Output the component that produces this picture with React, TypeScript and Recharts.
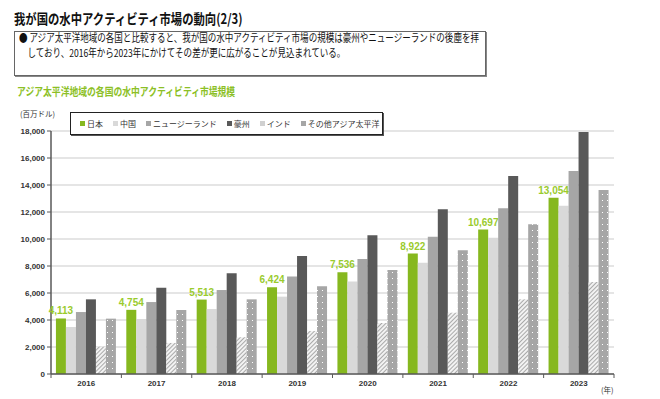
import React from "react";
import {
  BarChart,
  Bar,
  XAxis,
  YAxis,
  CartesianGrid,
  Legend,
  LabelList,
} from "recharts";

const years = ["2016", "2017", "2018", "2019", "2020", "2021", "2022", "2023"];
const japan = [4113, 4754, 5513, 6424, 7536, 8922, 10697, 13054];
const china = [3480, 4070, 4810, 5730, 6860, 8240, 10100, 12470];
const newZealand = [4590, 5330, 6220, 7230, 8520, 10170, 12270, 15040];
const australia = [5530, 6390, 7460, 8740, 10270, 12200, 14670, 17930];
const india = [2020, 2300, 2720, 3190, 3780, 4540, 5530, 6810];
const otherApac = [4100, 4740, 5530, 6500, 7700, 9160, 11100, 13630];
const yTicks = [0, 2000, 4000, 6000, 8000, 10000, 12000, 14000, 16000, 18000];

const series = [
  { key: "japan", name: "日本", fill: "#86b81f", icon: "#86b81f" },
  { key: "china", name: "中国", fill: "#d9d9d9", icon: "#d9d9d9" },
  { key: "newZealand", name: "ニュージーランド", fill: "#a6a6a6", icon: "#a6a6a6" },
  { key: "australia", name: "豪州", fill: "#595959", icon: "#595959" },
  { key: "india", name: "インド", fill: "url(#hatch)", icon: "#d0d0d0" },
  { key: "otherApac", name: "その他アジア太平洋", fill: "url(#dots)", icon: "#a6a6a6" },
];

const data = years.map((year, i) => ({
  year,
  japan: japan[i],
  china: china[i],
  newZealand: newZealand[i],
  australia: australia[i],
  india: india[i],
  otherApac: otherApac[i],
}));

const jp = '"Noto Sans CJK JP", sans-serif';
const latin = '"Liberation Sans", Arial, sans-serif';

const fmt = (v: any) => Number(v).toLocaleString("en-US");

// category tick: label in the middle, tick marks on the band edges
const YearTick = (props: any) => {
  const { x, y, payload, index } = props;
  const half = payload?.offset ?? 35.2;
  return (
    <g>
      <line x1={x - half} x2={x - half} y1={y} y2={y + 4} stroke="#595959" />
      {index === years.length - 1 && (
        <line x1={x + half} x2={x + half} y1={y} y2={y + 4} stroke="#595959" />
      )}
      <text
        x={x}
        y={y + 12}
        textAnchor="middle"
        fontSize={8}
        fontWeight="bold"
        fill="#333"
        fontFamily={latin}
      >
        {payload.value}
      </text>
    </g>
  );
};

const LegendBox = () => (
  <div
    style={{
      display: "flex",
      alignItems: "center",
      height: 23,
      paddingLeft: 9,
      border: "1px solid #222",
      boxShadow: "1px 1px 0 #555",
      background: "#fff",
      boxSizing: "border-box",
      fontFamily: jp,
      fontSize: 8,
      color: "#333",
      whiteSpace: "nowrap",
    }}
  >
    {series.map((s) => (
      <span
        key={s.key}
        style={{ display: "flex", alignItems: "center", marginRight: 10 }}
      >
        <span
          style={{
            width: 5,
            height: 5,
            background: s.icon,
            marginRight: 2,
            display: "inline-block",
          }}
        />
        {s.name}
      </span>
    ))}
  </div>
);

export default function App() {
  return (
    <div
      style={{
        position: "absolute",
        left: 0,
        top: 0,
        width: 660,
        height: 399,
        background: "#fff",
        overflow: "hidden",
      }}
    >
      <div
        style={{
          position: "absolute",
          left: 14,
          top: 8,
          fontFamily: jp,
          fontWeight: "bold",
          fontSize: 14,
          whiteSpace: "nowrap",
          transform: "scaleX(0.81)",
          transformOrigin: "left",
          color: "#111",
        }}
      >
        我が国の水中アクティビティ市場の動向(2/3)
      </div>

      <div
        style={{
          position: "absolute",
          left: 14,
          top: 31,
          width: 472,
          height: 45,
          border: "1px solid #666",
          boxShadow: "1px 1px 0 #888",
          boxSizing: "border-box",
        }}
      />
      <div
        style={{
          position: "absolute",
          left: 19,
          top: 30,
          fontFamily: jp,
          fontSize: 11,
          lineHeight: "15px",
          whiteSpace: "nowrap",
          transform: "scaleX(0.775)",
          transformOrigin: "left",
          color: "#111",
        }}
      >
        <div>●&nbsp;アジア太平洋地域の各国と比較すると、我が国の水中アクティビティ市場の規模は豪州やニュージーランドの後塵を拝</div>
        <div style={{ paddingLeft: 11 }}>
          しており、2016年から2023年にかけてその差が更に広がることが見込まれている。
        </div>
      </div>

      <div
        style={{
          position: "absolute",
          left: 17,
          top: 83,
          fontFamily: jp,
          fontWeight: "bold",
          fontSize: 11,
          whiteSpace: "nowrap",
          transform: "scaleX(0.8)",
          transformOrigin: "left",
          color: "#8cbf26",
        }}
      >
        アジア太平洋地域の各国の水中アクティビティ市場規模
      </div>

      <div
        style={{
          position: "absolute",
          left: 20,
          top: 108,
          fontFamily: jp,
          fontSize: 7.5,
          color: "#333",
          whiteSpace: "nowrap",
        }}
      >
        (百万ドル)
      </div>
      <div
        style={{
          position: "absolute",
          left: 601,
          top: 384,
          fontFamily: jp,
          fontSize: 7.5,
          color: "#333",
          whiteSpace: "nowrap",
        }}
      >
        (年)
      </div>

      <div style={{ position: "absolute", left: 0, top: 0 }}>
        <BarChart
          width={660}
          height={399}
          data={data}
          margin={{ top: 131, right: 46, bottom: 5, left: 11 }}
          barCategoryGap="7%"
          barGap={0}
        >
          <defs>
            <pattern
              id="hatch"
              width="3"
              height="3"
              patternUnits="userSpaceOnUse"
              patternTransform="rotate(45)"
            >
              <rect width="3" height="3" fill="#f2f2f2" />
              <line x1="0" y1="0" x2="0" y2="3" stroke="#969696" strokeWidth="1.6" />
            </pattern>
            <pattern id="dots" width="5" height="6" patternUnits="userSpaceOnUse">
              <rect width="5" height="6" fill="#a6a6a6" />
              <rect x="2" y="2" width="1" height="1" fill="#fff" />
            </pattern>
          </defs>
          <CartesianGrid
            vertical={false}
            stroke="#dcdcdc"
            strokeWidth={1.5}
          />
          <XAxis
            dataKey="year"
            height={20}
            axisLine={{ stroke: "#595959", strokeWidth: 1.5 }}
            tickLine={false}
            tickSize={0}
            tickMargin={0}
            tick={<YearTick />}
            interval={0}
          />
          <YAxis
            width={40}
            domain={[0, 18000]}
            ticks={yTicks}
            interval={0}
            tickFormatter={fmt}
            axisLine={{ stroke: "#595959", strokeWidth: 1.5 }}
            tickLine={{ stroke: "#595959" }}
            tickSize={4}
            tick={{ fontSize: 8, fill: "#333", fontFamily: latin, fontWeight: "bold" }}
          />
          <Legend
            layout="horizontal"
            verticalAlign="middle"
            align="center"
            content={<LegendBox />}
            wrapperStyle={{ position: "absolute", left: 70, top: 112, width: 313, height: 25 }}
          />
          {series.map((s) => (
            <Bar
              key={s.key}
              dataKey={s.key}
              name={s.name}
              fill={s.fill}
              isAnimationActive={false}
            >
              {s.key === "japan" && (
                <LabelList
                  dataKey="japan"
                  position="top"
                  offset={4}
                  formatter={fmt}
                  fill="#9acb2e"
                  fontSize={10}
                  fontWeight="bold"
                  fontFamily={latin}
                />
              )}
            </Bar>
          ))}
        </BarChart>
      </div>
    </div>
  );
}
